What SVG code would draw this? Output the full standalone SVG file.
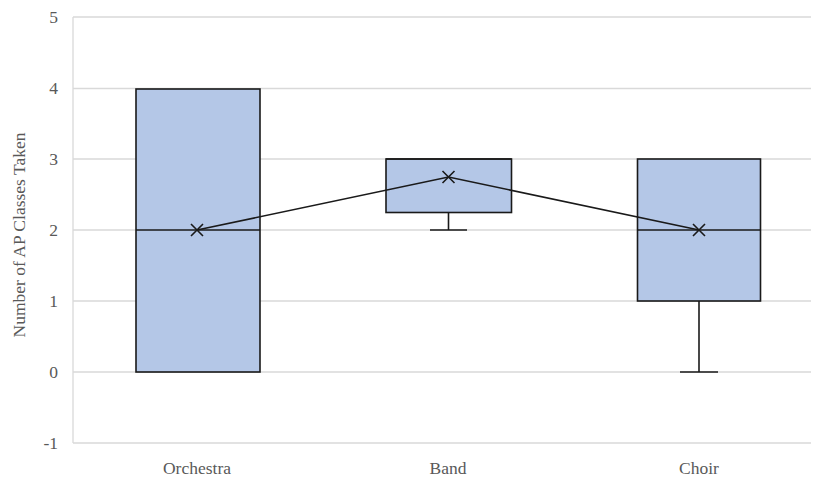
<svg xmlns="http://www.w3.org/2000/svg" width="813" height="478" viewBox="0 0 813 478">
<style>
.grid{stroke:#d9d9d9;stroke-width:1.3;fill:none}
.lbl{font-family:"Liberation Serif","Times New Roman",serif;font-size:17.5px;fill:#595959}
.box{fill:#b4c7e7;stroke:#1a1a1a;stroke-width:1.6}
.ln{stroke:#1a1a1a;stroke-width:1.6;fill:none}
</style>
<rect width="813" height="478" fill="#fff"/>
<g id="grid">
<line class="grid" x1="73" y1="17" x2="811" y2="17"/>
<line class="grid" x1="73" y1="88.5" x2="811" y2="88.5"/>
<line class="grid" x1="73" y1="159" x2="811" y2="159"/>
<line class="grid" x1="73" y1="230" x2="811" y2="230"/>
<line class="grid" x1="73" y1="301" x2="811" y2="301"/>
<line class="grid" x1="73" y1="372" x2="811" y2="372"/>
<line class="grid" x1="73" y1="443" x2="811" y2="443"/>
<line class="grid" x1="73" y1="17" x2="73" y2="443"/>
</g>
<g id="yaxis" class="lbl" text-anchor="end">
<text x="58" y="23">5</text>
<text x="58" y="94">4</text>
<text x="58" y="165">3</text>
<text x="58" y="236">2</text>
<text x="58" y="307">1</text>
<text x="58" y="378">0</text>
<text x="58" y="449">-1</text>
</g>
<text class="lbl" transform="translate(25,235) rotate(-90)" text-anchor="middle">Number of AP Classes Taken</text>
<g id="xaxis" class="lbl" text-anchor="middle">
<text x="197" y="474">Orchestra</text>
<text x="448" y="474">Band</text>
<text x="699" y="474">Choir</text>
</g>
<g id="orchestra">
<rect class="box" x="136" y="89" width="124" height="283"/>
<line class="ln" x1="136" y1="230" x2="260" y2="230"/>
</g>
<g id="band">
<line class="ln" x1="448.5" y1="212.5" x2="448.5" y2="230"/>
<line class="ln" x1="430" y1="230" x2="467" y2="230"/>
<rect class="box" x="386" y="159" width="125.5" height="53.5"/>
<line class="ln" x1="386" y1="159" x2="511.5" y2="159"/>
</g>
<g id="choir">
<line class="ln" x1="699" y1="301" x2="699" y2="372"/>
<line class="ln" x1="680" y1="372" x2="718" y2="372"/>
<rect class="box" x="637.5" y="159" width="123" height="142"/>
<line class="ln" x1="637.5" y1="230" x2="760.5" y2="230"/>
</g>
<g id="connectors">
<polyline class="ln" points="197,230 448.5,177 699,230"/>
<path class="ln" d="M191,224 L203,236 M203,224 L191,236 M442.5,171 L454.5,183 M454.5,171 L442.5,183 M693,224 L705,236 M705,224 L693,236"/>
</g>
</svg>
